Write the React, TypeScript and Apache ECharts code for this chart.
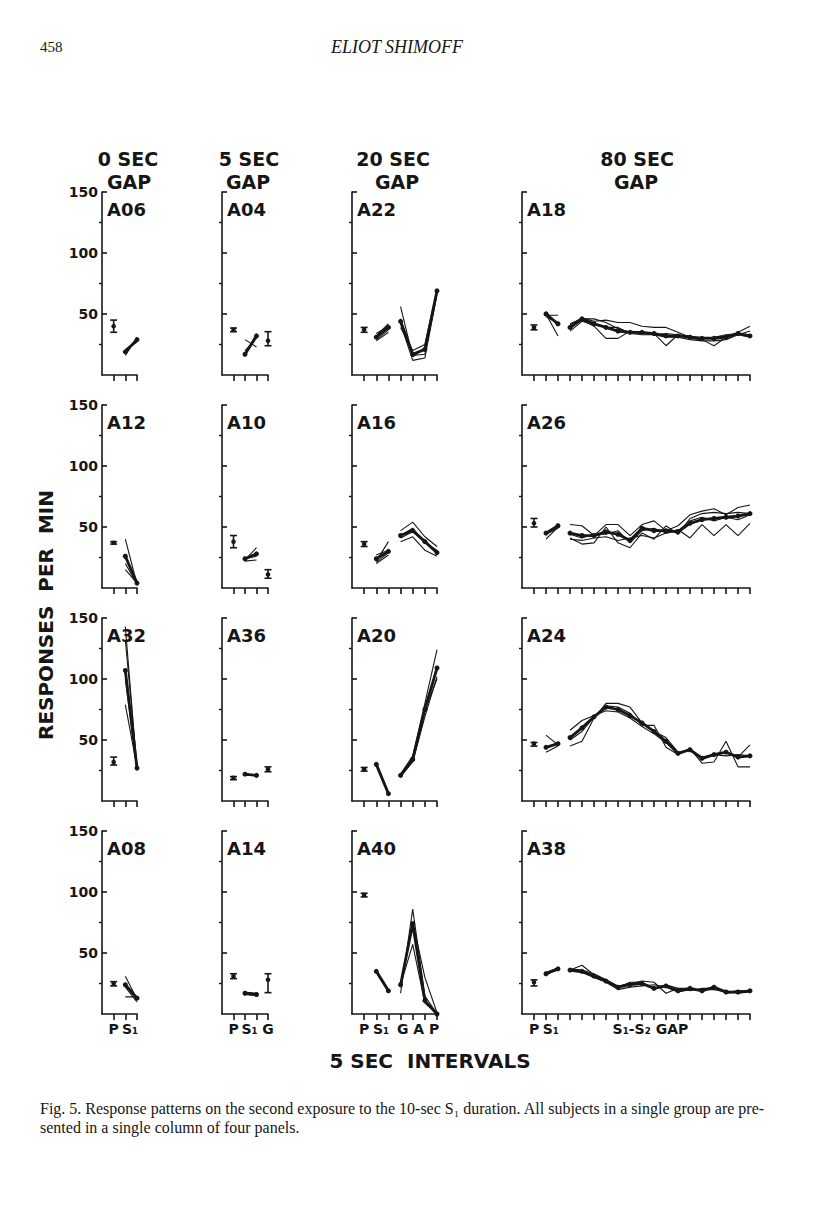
import React, { useEffect, useRef } from 'react';
import * as echarts from 'echarts';

// ---------- data (responses per min) ----------
// P = [mean, low, high] of the pre-S1 baseline; G = [mean, low, high] of the gap (5-sec group)
const COLUMN_TITLES = ['0 SEC', '5 SEC', '20 SEC', '80 SEC'];
const Y_TICK_LABELS = [50, 100, 150];

const A06_P = [40, 35, 45];
const A06_S1 = [[18, 30], [21, 28], [16, 31], [20, 27]];
const A06_S1M = [19, 29];

const A04_P = [37, 35.5, 38.5];
const A04_S1 = [[16, 34], [29, 23], [18, 31], [20, 30]];
const A04_S1M = [17, 32];
const A04_G = [28, 24, 35.5];

const A22_P = [37, 35, 39];
const A22_S1 = [[29, 37], [32, 42], [28, 35], [34, 40]];
const A22_S1M = [31, 39];
const A22_GAP = [[56, 15, 22, 68], [42, 12, 14, 66], [39, 20, 25, 70], [46, 16, 17, 67]];
const A22_GAPM = [44, 17, 21, 69];

const A18_P = [39, 37, 41];
const A18_S1 = [[52, 40], [48, 42], [50, 32], [49, 49]];
const A18_S1M = [50, 42];
const A18_GAP = [
  [41, 47, 44, 45, 43, 43, 40, 39, 39, 35, 31, 31, 31, 32, 33, 36],
  [38, 45, 40, 30, 30, 36, 35, 34, 24, 33, 30, 29, 24, 31, 35, 40],
  [42, 46, 46, 43, 38, 35, 34, 33, 34, 33, 32, 30, 31, 33, 34, 33],
  [36, 44, 41, 39, 39, 34, 33, 33, 31, 31, 29, 28, 28, 29, 33, 31],
];
const A18_GAPM = [39, 46, 42, 39, 36, 35, 35, 34, 32, 32, 31, 30, 30, 31, 34, 32];

const A12_P = [37, 36, 38];
const A12_S1 = [[40, 3], [25, 5], [15, 4], [20, 3]];
const A12_S1M = [26, 4];

const A10_P = [38, 33, 43];
const A10_S1 = [[23, 33], [22, 23], [24, 26]];
const A10_S1M = [24, 28];
const A10_G = [11, 8, 15];

const A16_P = [36, 34, 38];
const A16_S1 = [[20, 27], [27, 31], [22, 38], [21, 29]];
const A16_S1M = [24, 30];
const A16_GAP = [[47, 54, 42, 34], [38, 42, 31, 26], [43, 49, 37, 31], [41, 46, 39, 28]];
const A16_GAPM = [43, 47, 38, 29];

const A26_P = [53, 50, 57];
const A26_S1 = [[45, 51], [40, 50], [44, 49]];
const A26_S1M = [45, 51];
const A26_GAP = [
  [40, 39, 41, 42, 39, 41, 43, 41, 45, 48, 41, 52, 43, 52, 43, 53],
  [52, 51, 43, 52, 52, 43, 52, 55, 47, 51, 60, 63, 65, 60, 66, 68],
  [41, 36, 37, 50, 37, 33, 45, 40, 51, 44, 57, 61, 62, 61, 62, 61],
  [44, 41, 44, 44, 47, 37, 47, 49, 45, 47, 55, 58, 55, 58, 56, 60],
];
const A26_GAPM = [45, 43, 43, 46, 44, 39, 49, 47, 47, 46, 53, 56, 57, 58, 59, 61];

const A32_P = [32, 29.5, 36];
const A32_S1 = [[143, 25], [79, 28], [132, 29], [100, 26]];
const A32_S1M = [107, 27];

const A36_P = [19, 17.5, 20];
const A36_S1 = [[22, 21], [21, 21.5]];
const A36_S1M = [22, 21];
const A36_G = [26, 24, 28];

const A20_P = [26, 24.5, 27.5];
const A20_S1 = [[31, 7], [29, 6]];
const A20_S1M = [30, 6];
const A20_GAP = [[22, 37, 80, 124], [20, 32, 69, 102], [21, 35, 74, 100]];
const A20_GAPM = [21, 34, 75, 109];

const A24_P = [47, 45, 48];
const A24_S1 = [[54, 46], [40, 45], [43, 48]];
const A24_S1M = [44, 47];
const A24_GAP = [
  [45, 49, 68, 80, 80, 77, 64, 57, 52, 40, 42, 36, 38, 40, 36, 46],
  [58, 66, 70, 74, 73, 68, 61, 55, 48, 39, 43, 34, 38, 37, 38, 37],
  [50, 57, 69, 78, 77, 72, 62, 62, 44, 38, 43, 31, 32, 49, 28, 28],
];
const A24_GAPM = [52, 60, 69, 77, 75, 70, 64, 57, 49, 39, 42, 35, 38, 40, 36, 37];

const A08_P = [25, 23, 26.5];
const A08_S1 = [[31, 12], [14, 14], [22, 10]];
const A08_S1M = [24, 13];

const A14_P = [31, 29, 33];
const A14_S1 = [[16, 15], [18, 17]];
const A14_S1M = [17, 16];
const A14_G = [28, 17.5, 33];

const A40_P = [97.5, 96, 99];
const A40_S1 = [[34, 18], [36, 20]];
const A40_S1M = [35, 19];
const A40_GAP = [[17, 86, 15, 0], [24, 57, 9, 0], [22, 76, 30, 1]];
const A40_GAPM = [24, 74, 11, 0];

const A38_P = [26, 23, 28];
const A38_S1 = [[32, 37], [34, 38], [33, 36]];
const A38_S1M = [33, 37];
const A38_GAP = [
  [36, 40, 32, 28, 23, 25, 27, 26, 17, 21, 21, 19, 22, 17, 18, 19],
  [35, 34, 30, 26, 20, 22, 23, 24, 22, 18, 20, 20, 20, 18, 19, 19],
  [37, 36, 33, 28, 22, 26, 26, 21, 24, 21, 19, 21, 21, 19, 17, 18],
];
const A38_GAPM = [36, 35, 31, 27, 22, 24, 25, 21, 23, 19, 21, 19, 22, 18, 18, 19];

type Panel = {
  id: string; p: number[]; s1: number[][]; s1m: number[];
  gap: number[][]; gapm: number[] | null; g: number[] | null;
};

const PANELS: Panel[] = [
  { id: 'A06', p: A06_P, s1: A06_S1, s1m: A06_S1M, gap: [], gapm: null, g: null },
  { id: 'A04', p: A04_P, s1: A04_S1, s1m: A04_S1M, gap: [], gapm: null, g: A04_G },
  { id: 'A22', p: A22_P, s1: A22_S1, s1m: A22_S1M, gap: A22_GAP, gapm: A22_GAPM, g: null },
  { id: 'A18', p: A18_P, s1: A18_S1, s1m: A18_S1M, gap: A18_GAP, gapm: A18_GAPM, g: null },
  { id: 'A12', p: A12_P, s1: A12_S1, s1m: A12_S1M, gap: [], gapm: null, g: null },
  { id: 'A10', p: A10_P, s1: A10_S1, s1m: A10_S1M, gap: [], gapm: null, g: A10_G },
  { id: 'A16', p: A16_P, s1: A16_S1, s1m: A16_S1M, gap: A16_GAP, gapm: A16_GAPM, g: null },
  { id: 'A26', p: A26_P, s1: A26_S1, s1m: A26_S1M, gap: A26_GAP, gapm: A26_GAPM, g: null },
  { id: 'A32', p: A32_P, s1: A32_S1, s1m: A32_S1M, gap: [], gapm: null, g: null },
  { id: 'A36', p: A36_P, s1: A36_S1, s1m: A36_S1M, gap: [], gapm: null, g: A36_G },
  { id: 'A20', p: A20_P, s1: A20_S1, s1m: A20_S1M, gap: A20_GAP, gapm: A20_GAPM, g: null },
  { id: 'A24', p: A24_P, s1: A24_S1, s1m: A24_S1M, gap: A24_GAP, gapm: A24_GAPM, g: null },
  { id: 'A08', p: A08_P, s1: A08_S1, s1m: A08_S1M, gap: [], gapm: null, g: null },
  { id: 'A14', p: A14_P, s1: A14_S1, s1m: A14_S1M, gap: [], gapm: null, g: A14_G },
  { id: 'A40', p: A40_P, s1: A40_S1, s1m: A40_S1M, gap: A40_GAP, gapm: A40_GAPM, g: null },
  { id: 'A38', p: A38_P, s1: A38_S1, s1m: A38_S1M, gap: A38_GAP, gapm: A38_GAPM, g: null },
];

// bottom-row x labels per column: [position, text]
const X_LABELS: [number, string][][] = [
  [[1, 'P'], [2.4, 'S₁']],
  [[1, 'P'], [2.4, 'S₁'], [4, 'G']],
  [[1, 'P'], [2.4, 'S₁'], [5.45, 'G A P']],
  [[1, 'P'], [2.4, 'S₁'], [10.7, 'S₁-S₂ GAP']],
];

// ---------- layout ----------
const COLS = [
  { left: 102, width: 35, max: 3 },
  { left: 222, width: 46, max: 4 },
  { left: 352, width: 85, max: 7 },
  { left: 522, width: 228, max: 19 },
];
const ROW_TOPS = [192, 405, 618, 831];
const ROW_H = 183;
const INK = '#161616';
const SANS = '"DejaVu Sans", sans-serif';
const SERIF = '"Liberation Serif", "DejaVu Serif", serif';

function buildOption() {
  const grid: any[] = [];
  const xAxis: any[] = [];
  const yAxis: any[] = [];
  const series: any[] = [];
  const graphic: any[] = [];

  PANELS.forEach((pn, k) => {
    const r = Math.floor(k / 4);
    const c = k % 4;
    const col = COLS[c];
    grid.push({ left: col.left, top: ROW_TOPS[r], width: col.width, height: ROW_H, containLabel: false });
    const ticks = Array.from({ length: col.max }, (_, i) => i + 1);
    const labels = X_LABELS[c];
    xAxis.push({
      type: 'value', gridIndex: k, min: 0, max: col.max,
      axisLine: { show: true, lineStyle: { color: INK, width: 1.6 } },
      axisTick: { show: true, customValues: ticks, length: 6, inside: false, lineStyle: { color: INK, width: 1.6 } },
      axisLabel: r === 3 ? {
        show: true, customValues: labels.map((l) => l[0]),
        formatter: (v: number) => { const f = labels.find((l) => Math.abs(l[0] - v) < 1e-6); return f ? f[1] : ''; },
        color: INK, fontFamily: SANS, fontWeight: 'bold', fontSize: 14, margin: 8,
      } : { show: false },
      splitLine: { show: false },
    });
    yAxis.push({
      type: 'value', gridIndex: k, min: 0, max: 150, position: 'left',
      axisLine: { show: true, lineStyle: { color: INK, width: 1.6 } },
      axisTick: { show: true, customValues: Y_TICK_LABELS, inside: true, length: 5, lineStyle: { color: INK, width: 1.6 } },
      axisLabel: c === 0 ? {
        show: true, customValues: Y_TICK_LABELS, color: INK, fontFamily: SANS, fontWeight: 'bold', fontSize: 14, margin: 4,
      } : { show: false },
      splitLine: { show: false },
    });
    yAxis.push({
      type: 'value', gridIndex: k, min: 0, max: 150, position: 'left', offset: 0,
      axisLine: { show: false },
      axisTick: { show: true, customValues: [25, 75, 125], inside: false, length: 3, lineStyle: { color: INK, width: 1.4 } },
      axisLabel: { show: false },
      splitLine: { show: false },
    });
    const yi = 2 * k;

    const bars: number[][] = [[1, ...pn.p]];
    if (pn.g) bars.push([4, ...pn.g]);
    series.push({
      type: 'custom', xAxisIndex: k, yAxisIndex: yi, silent: true, data: bars,
      encode: { x: 0, y: [1, 2, 3] },
      renderItem: (_params: any, api: any) => {
        const x = api.value(0);
        const m = api.coord([x, api.value(1)]);
        const lo = api.coord([x, api.value(2)]);
        const hi = api.coord([x, api.value(3)]);
        const w = 3.5;
        const st = { stroke: INK, lineWidth: 1.6 };
        return {
          type: 'group',
          children: [
            { type: 'line', shape: { x1: lo[0], y1: lo[1], x2: hi[0], y2: hi[1] }, style: st },
            { type: 'line', shape: { x1: lo[0] - w, y1: lo[1], x2: lo[0] + w, y2: lo[1] }, style: st },
            { type: 'line', shape: { x1: hi[0] - w, y1: hi[1], x2: hi[0] + w, y2: hi[1] }, style: st },
            { type: 'circle', shape: { cx: m[0], cy: m[1], r: 2.3 }, style: { fill: INK } },
          ],
        };
      },
    });

    const line = (vals: number[], start: number, thick: boolean) => ({
      type: 'line', xAxisIndex: k, yAxisIndex: yi, silent: true,
      data: vals.map((v, i) => [start + i, v]),
      symbol: thick ? 'circle' : 'none', symbolSize: 5, showSymbol: thick,
      lineStyle: { color: INK, width: thick ? 2.8 : 1.1 },
      itemStyle: { color: INK },
      z: thick ? 3 : 2,
    });
    pn.s1.forEach((s) => series.push(line(s, 2, false)));
    series.push(line(pn.s1m, 2, true));
    pn.gap.forEach((s) => series.push(line(s, 4, false)));
    if (pn.gapm) series.push(line(pn.gapm, 4, true));

    graphic.push({
      type: 'text', x: col.left + 5, y: ROW_TOPS[r] + 17,
      style: { text: pn.id, font: `bold 18px ${SANS}`, fill: INK, textAlign: 'left', textVerticalAlign: 'middle' },
    });
  });

  // column titles
  const titleX = [128, 249, 393, 637];
  const gapX = [129, 248, 397, 636];
  COLUMN_TITLES.forEach((t, i) => {
    graphic.push({ type: 'text', x: titleX[i], y: 159, style: { text: t, font: `bold 19px ${SANS}`, fill: INK, textAlign: 'center', textVerticalAlign: 'middle', lineHeight: 19 } });
    graphic.push({ type: 'text', x: gapX[i], y: 182, style: { text: 'GAP', font: `bold 19px ${SANS}`, fill: INK, textAlign: 'center', textVerticalAlign: 'middle', lineHeight: 19 } });
  });

  graphic.push(
    { type: 'text', x: 40, y: 47, style: { text: '458', font: `15px ${SERIF}`, fill: INK, textAlign: 'left', textVerticalAlign: 'middle' } },
    { type: 'text', x: 397, y: 47, style: { text: 'ELIOT SHIMOFF', font: `italic 18px ${SERIF}`, fill: INK, textAlign: 'center', textVerticalAlign: 'middle' } },
    { type: 'text', x: 46, y: 615, rotation: Math.PI / 2, style: { text: 'RESPONSES  PER  MIN', font: `bold 20px ${SANS}`, fill: INK, textAlign: 'center', textVerticalAlign: 'middle' } },
    { type: 'text', x: 430, y: 1061, style: { text: '5 SEC  INTERVALS', font: `bold 20px ${SANS}`, fill: INK, textAlign: 'center', textVerticalAlign: 'middle' } },
    { type: 'text', x: 40, y: 1108, style: { text: 'Fig. 5. Response patterns on the second exposure to the 10-sec S₁ duration. All subjects in a single group are pre-', font: `16px ${SERIF}`, fill: INK, textAlign: 'left', textVerticalAlign: 'middle' } },
    { type: 'text', x: 40, y: 1127, style: { text: 'sented in a single column of four panels.', font: `16px ${SERIF}`, fill: INK, textAlign: 'left', textVerticalAlign: 'middle' } },
  );

  return { animation: false, backgroundColor: '#ffffff', grid, xAxis, yAxis, series, graphic };
}

export default function App() {
  const ref = useRef<HTMLDivElement>(null);
  useEffect(() => {
    if (!ref.current) return;
    const chart = echarts.init(ref.current, undefined, { renderer: 'svg' });
    chart.setOption(buildOption() as any);
    return () => chart.dispose();
  }, []);
  return <div ref={ref} style={{ position: 'absolute', left: 0, top: 0, width: 816, height: 1207, background: '#fff' }} />;
}
